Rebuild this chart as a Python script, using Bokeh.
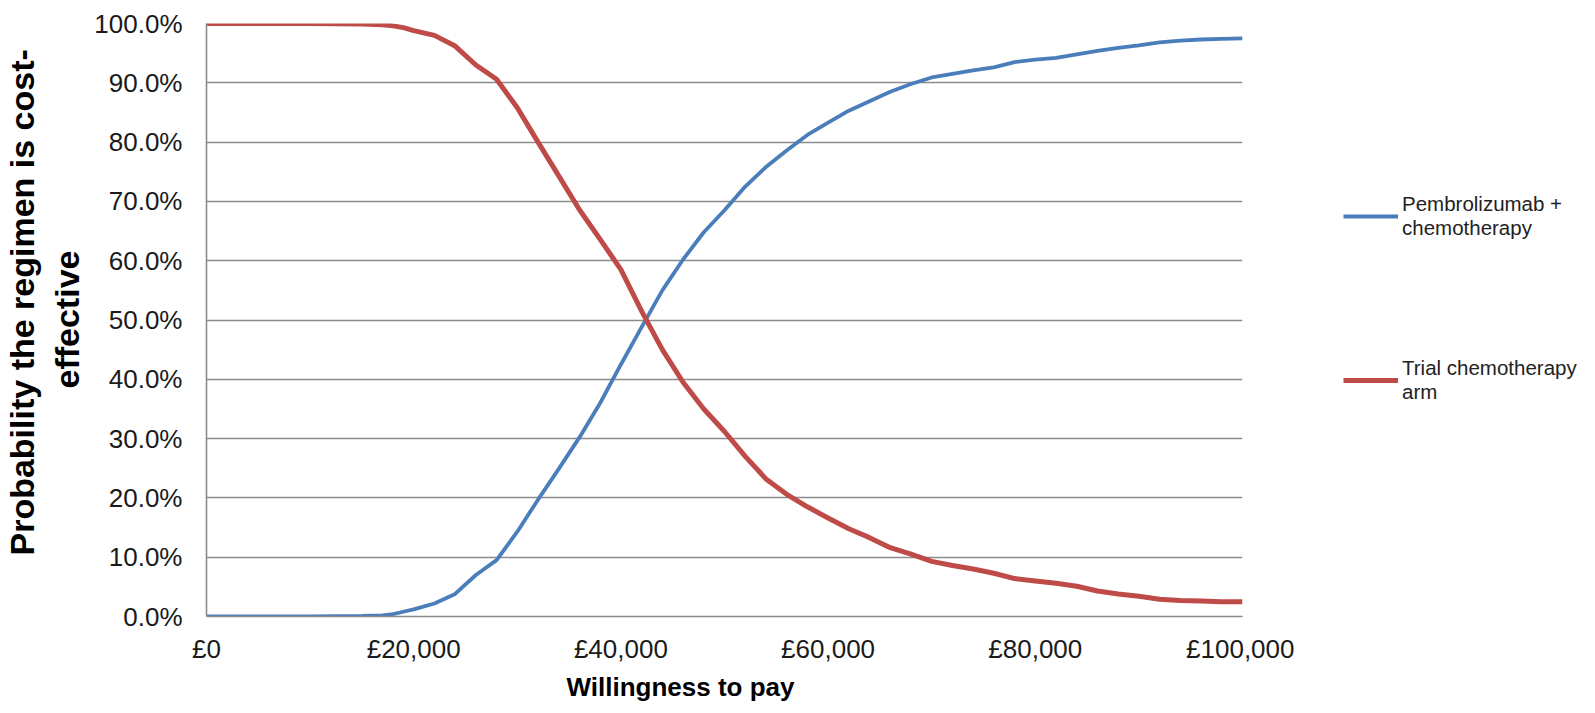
from bokeh.plotting import figure
from bokeh.models import Legend, LegendItem, Title, FixedTicker, Range1d
from bokeh.layouts import row
from bokeh.embed import file_html
from bokeh.resources import INLINE

# ---- data ----
wtp = [0, 5000, 10000, 15000, 17000, 18000, 19000, 20000, 22000, 24000, 26000, 28000,
       30000, 32000, 34000, 36000, 38000, 40000, 42000, 44000, 46000, 48000, 50000,
       52000, 54000, 56000, 58000, 60000, 62000, 64000, 66000, 68000, 70000, 72000,
       74000, 76000, 78000, 80000, 82000, 84000, 86000, 88000, 90000, 92000, 94000,
       96000, 98000, 100000]

pembro = [0.0, 0.0, 0.0, 0.1, 0.2, 0.4, 0.8, 1.2, 2.2, 3.8, 7.0, 9.5,
          14.3, 19.7, 24.9, 30.2, 36.0, 42.5, 48.8, 55.0, 60.2, 64.8, 68.5,
          72.5, 75.8, 78.6, 81.2, 83.3, 85.3, 86.9, 88.5, 89.8, 90.9, 91.5,
          92.1, 92.6, 93.5, 93.9, 94.2, 94.8, 95.4, 95.9, 96.3, 96.8, 97.1,
          97.3, 97.4, 97.5]

chemo = [100.0, 100.0, 100.0, 99.9, 99.8, 99.6, 99.3, 98.8, 98.0, 96.2, 93.0, 90.6,
         85.8, 80.0, 74.3, 68.6, 63.6, 58.5, 51.5, 45.0, 39.5, 35.0, 31.2,
         27.0, 23.2, 20.6, 18.5, 16.6, 14.8, 13.3, 11.6, 10.5, 9.3, 8.6,
         8.0, 7.3, 6.4, 6.0, 5.6, 5.1, 4.3, 3.8, 3.4, 2.9, 2.7,
         2.6, 2.5, 2.5]

series_names = ["Pembrolizumab +\nchemotherapy", "Trial chemotherapy\narm"]
series_values = [pembro, chemo]
series_colors = ["#4A7EBB", "#BE4B48"]
series_widths = [3.8, 5]
x_ticks = [0, 20000, 40000, 60000, 80000, 100000]
x_tick_labels = ["£0", "£20,000", "£40,000", "£60,000", "£80,000", "£100,000"]
y_ticks = [0, 10, 20, 30, 40, 50, 60, 70, 80, 90, 100]
y_tick_labels = ["0.0%", "10.0%", "20.0%", "30.0%", "40.0%", "50.0%",
                 "60.0%", "70.0%", "80.0%", "90.0%", "100.0%"]
x_title = "Willingness to pay"
y_title_lines = ["Probability the regimen is cost-", "effective"]

# ---- main chart ----
FONT = "Liberation Sans"
H = 704
W1 = 1294
W2 = 293
p = figure(width=W1, height=H, output_backend="svg", toolbar_location=None,
           x_range=Range1d(0, 100000), y_range=Range1d(0, 100),
           min_border_left=196, min_border_right=52, min_border_top=23,
           min_border_bottom=4)
p.outline_line_color = None
p.background_fill_color = "white"
p.border_fill_color = "white"

for vals, c, w in zip(series_values, series_colors, series_widths):
    p.line(wtp, vals, line_color=c, line_width=w)

p.xgrid.grid_line_color = None
p.ygrid.grid_line_color = "#8C8C8C"
p.ygrid.grid_line_width = 1.6

for ax in (p.xaxis[0], p.yaxis[0]):
    ax.axis_line_color = "#8C8C8C"
    ax.axis_line_width = 1.6
    ax.major_tick_in = 0
    ax.major_tick_out = 0
    ax.minor_tick_in = 0
    ax.minor_tick_out = 0
    ax.major_label_text_font = FONT
    ax.major_label_text_font_size = "26px"
    ax.major_label_text_color = "#1A1A1A"

p.xaxis.ticker = FixedTicker(ticks=x_ticks)
p.xaxis.major_label_overrides = dict(zip(x_ticks, x_tick_labels))
p.xaxis.major_label_standoff = 17

p.yaxis.ticker = FixedTicker(ticks=y_ticks)
p.yaxis.major_label_overrides = dict(zip(y_ticks, y_tick_labels))
p.yaxis.major_label_standoff = 24

# y-axis title: two lines, each placed as in the reference
for txt, off, so in ((y_title_lines[1], 228, 11), (y_title_lines[0], 61, 0)):
    p.add_layout(Title(text=txt, align="left", offset=off, text_font=FONT,
                       text_font_style="bold", text_font_size="34px",
                       text_color="#000000", standoff=so), "left")

xt = Title(text=x_title, align="left", offset=360, text_font=FONT,
           text_font_style="bold", text_font_size="26px", text_color="#000000",
           standoff=6)
p.add_layout(xt, "below")

# ---- legend panel (to the right of the chart) ----
q = figure(width=W2, height=H, output_backend="svg", toolbar_location=None,
           x_range=Range1d(-2, -1), y_range=Range1d(0, 1),
           x_axis_type=None, y_axis_type=None, min_border=0)
q.outline_line_color = None
q.grid.visible = False
q.border_fill_color = "white"
keys = [q.line(wtp, vals, line_color=c, line_width=w)
        for vals, c, w in zip(series_values, series_colors, series_widths)]

legend = Legend(items=[LegendItem(label=n, renderers=[k])
                       for n, k in zip(series_names, keys)],
                location=(49, 212))
legend.border_line_color = None
legend.background_fill_alpha = 0
legend.padding = 0
legend.margin = 0
legend.spacing = 116
legend.glyph_width = 55
legend.glyph_height = 26
legend.label_standoff = 4
legend.label_text_font = FONT
legend.label_text_font_size = "20.5px"
legend.label_text_color = "#222222"
legend.label_text_line_height = 1.26
q.add_layout(legend, "center")

layout = row(p, q, spacing=0)
open("out.html", "w").write(file_html(layout, INLINE))
